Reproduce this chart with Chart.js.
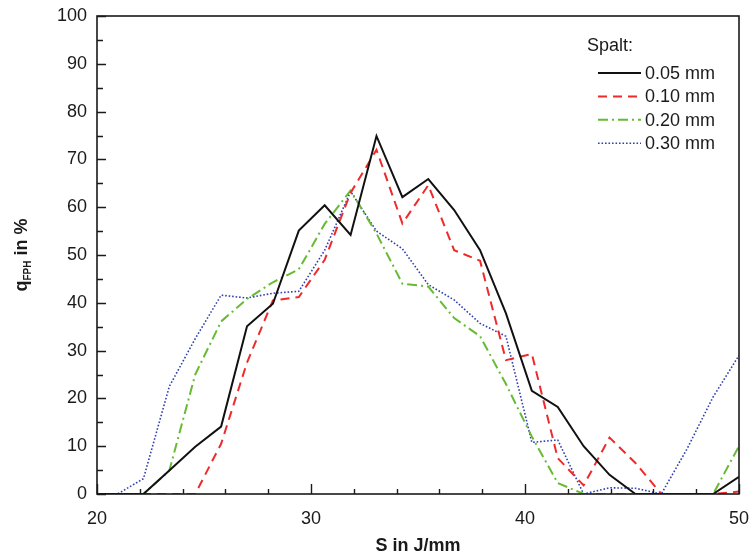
<!DOCTYPE html>
<html>
<head>
<meta charset="utf-8">
<script src="https://cdn.jsdelivr.net/npm/chart.js@4/dist/chart.umd.min.js"></script>
<style>
  html, body { margin: 0; padding: 0; background: #ffffff; }
  #wrap { width: 754px; height: 555px; }
</style>
</head>
<body>
<div id="wrap"><canvas id="c" width="754" height="555"></canvas></div>
<script>
// ---- data ----
const S = [20.00, 20.96, 22.17, 23.38, 24.59, 25.80, 27.01, 28.22, 29.43, 30.64, 31.85, 33.06, 34.27,
           35.48, 36.69, 37.90, 39.11, 40.32, 41.53, 42.74, 43.95, 45.16, 46.37, 47.58, 48.79, 50.00];
const q005 = [0, 0, 0, 4.9, 9.9, 14.1, 35.1, 39.8, 55.1, 60.4, 54.2, 74.9, 62.1,
              65.9, 59.4, 51.0, 37.8, 21.6, 18.2, 10.0, 4.0, 0, 0, 0, 0, 3.6];
const q010 = [0, 0, 0, 0, 0, 10.5, 27.5, 40.5, 41.2, 49.0, 63.0, 72.0, 56.6,
              64.6, 51.0, 48.8, 28.0, 29.3, 7.5, 1.8, 11.8, 6.5, 0, 0, 0, 0.5];
const q020 = [0, 0, 0, 4.9, 25.0, 36.1, 40.8, 44.3, 47.0, 56.5, 63.5, 54.5, 44.0,
              43.4, 36.8, 33.0, 23.0, 12.0, 2.3, 0, 0, 0, 0, 0, 0, 10.0];
const q030 = [0, 0, 3.2, 22.5, 32.5, 41.6, 41.0, 42.0, 42.4, 51.0, 63.3, 55.0, 51.3,
              43.8, 40.6, 35.7, 33.0, 10.8, 11.3, 0, 1.3, 1.2, 0, 9.5, 20.3, 29.0];
const seriesLabels = ['0.05 mm', '0.10 mm', '0.20 mm', '0.30 mm'];
const legendTitle = 'Spalt:';
const xTicks = [20, 30, 40, 50];
const yTicks = [0, 10, 20, 30, 40, 50, 60, 70, 80, 90, 100];
const xTitle = 'S in J/mm';
const yTitleParts = ['q', 'FPH', ' in %'];

const FONT = '"Liberation Sans", Arial, sans-serif';
const INK = '#1a1a1a';

const styles = [
  { color: '#111111', width: 2.0, dash: [] },
  { color: '#ee2a2a', width: 2.0, dash: [9, 6] },
  { color: '#66bb33', width: 2.0, dash: [10, 4, 2, 4] },
  { color: '#3040b0', width: 1.6, dash: [1.6, 1.9] }
];
const allSeries = [q005, q010, q020, q030];

const datasets = allSeries.map((arr, i) => ({
  label: seriesLabels[i],
  data: S.map((x, k) => ({ x: x, y: arr[k] })),
  borderColor: styles[i].color,
  borderWidth: styles[i].width,
  borderDash: styles[i].dash,
  borderCapStyle: 'butt',
  borderJoinStyle: 'miter',
  pointRadius: 0,
  tension: 0,
  fill: false
}));

const decor = {
  id: 'decor',
  afterDraw(chart) {
    const ctx = chart.ctx;
    const a = chart.chartArea;
    const xs = chart.scales.x, ys = chart.scales.y;
    ctx.save();
    // frame
    ctx.strokeStyle = INK;
    ctx.lineWidth = 1.6;
    ctx.setLineDash([]);
    ctx.strokeRect(a.left, a.top, a.right - a.left, a.bottom - a.top);
    // x ticks (inward)
    ctx.lineWidth = 1.4;
    ctx.beginPath();
    for (let v = xs.min; v <= xs.max; v += 2) {
      const px = Math.round(xs.getPixelForValue(v)) + 0.5;
      const len = (v % 10 === 0) ? 10 : 5;
      ctx.moveTo(px, a.bottom);
      ctx.lineTo(px, a.bottom - len);
    }
    // y ticks (inward)
    for (let v = ys.min; v <= ys.max; v += 5) {
      const py = Math.round(ys.getPixelForValue(v)) + 0.5;
      const len = (v % 10 === 0) ? 9 : 6;
      ctx.moveTo(a.left, py);
      ctx.lineTo(a.left + len, py);
    }
    ctx.stroke();

    // x title
    ctx.fillStyle = INK;
    ctx.font = 'bold 18px ' + FONT;
    ctx.textAlign = 'center';
    ctx.textBaseline = 'alphabetic';
    ctx.fillText(xTitle, (a.left + a.right) / 2, 551);

    // y title with subscript
    ctx.save();
    ctx.translate(24, (a.top + a.bottom) / 2);
    ctx.rotate(-Math.PI / 2);
    ctx.textAlign = 'left';
    const big = 'bold 18px ' + FONT, small = 'bold 10px ' + FONT;
    ctx.font = big; const w0 = ctx.measureText(yTitleParts[0]).width;
    ctx.font = small; const w1 = ctx.measureText(yTitleParts[1]).width;
    ctx.font = big; const w2 = ctx.measureText(yTitleParts[2]).width;
    let x0 = -(w0 + w1 + w2) / 2;
    ctx.font = big; ctx.fillText(yTitleParts[0], x0, 3);
    ctx.font = small; ctx.fillText(yTitleParts[1], x0 + w0, 7);
    ctx.font = big; ctx.fillText(yTitleParts[2], x0 + w0 + w1, 3);
    ctx.restore();

    // legend
    ctx.font = '18px ' + FONT;
    ctx.textAlign = 'left';
    ctx.textBaseline = 'middle';
    ctx.fillStyle = INK;
    ctx.fillText(legendTitle, 587, 46);
    chart.data.datasets.forEach((ds, i) => {
      const y = 73 + i * 23.4;
      ctx.strokeStyle = ds.borderColor;
      ctx.lineWidth = ds.borderWidth;
      ctx.setLineDash(ds.borderDash || []);
      ctx.lineCap = 'butt';
      ctx.beginPath();
      ctx.moveTo(598, y);
      ctx.lineTo(641, y);
      ctx.stroke();
      ctx.setLineDash([]);
      ctx.fillStyle = INK;
      ctx.fillText(ds.label, 645, y + 1);
    });
    ctx.restore();
  }
};

new Chart(document.getElementById('c'), {
  type: 'line',
  data: { datasets: datasets },
  options: {
    responsive: false,
    animation: false,
    devicePixelRatio: 1,
    layout: { padding: { top: 16, right: 15, left: 0, bottom: 0 } },
    plugins: { legend: { display: false }, tooltip: { enabled: false } },
    scales: {
      x: {
        type: 'linear', min: 20, max: 50,
        afterFit: s => { s.height = 61; s.paddingLeft = 0; s.paddingRight = 0; },
        afterBuildTicks: s => { s.ticks = xTicks.map(v => ({ value: v })); },
        ticks: { color: INK, font: { family: FONT, size: 18 }, padding: 14, maxRotation: 0 },
        grid: { display: false, drawTicks: false },
        border: { display: false }
      },
      y: {
        type: 'linear', min: 0, max: 100,
        afterFit: s => { s.width = 97; s.paddingTop = 0; s.paddingBottom = 0; },
        afterBuildTicks: s => { s.ticks = yTicks.map(v => ({ value: v })); },
        ticks: { color: INK, font: { family: FONT, size: 18 }, padding: 10 },
        grid: { display: false, drawTicks: false },
        border: { display: false }
      }
    }
  },
  plugins: [decor]
});
</script>
</body>
</html>
